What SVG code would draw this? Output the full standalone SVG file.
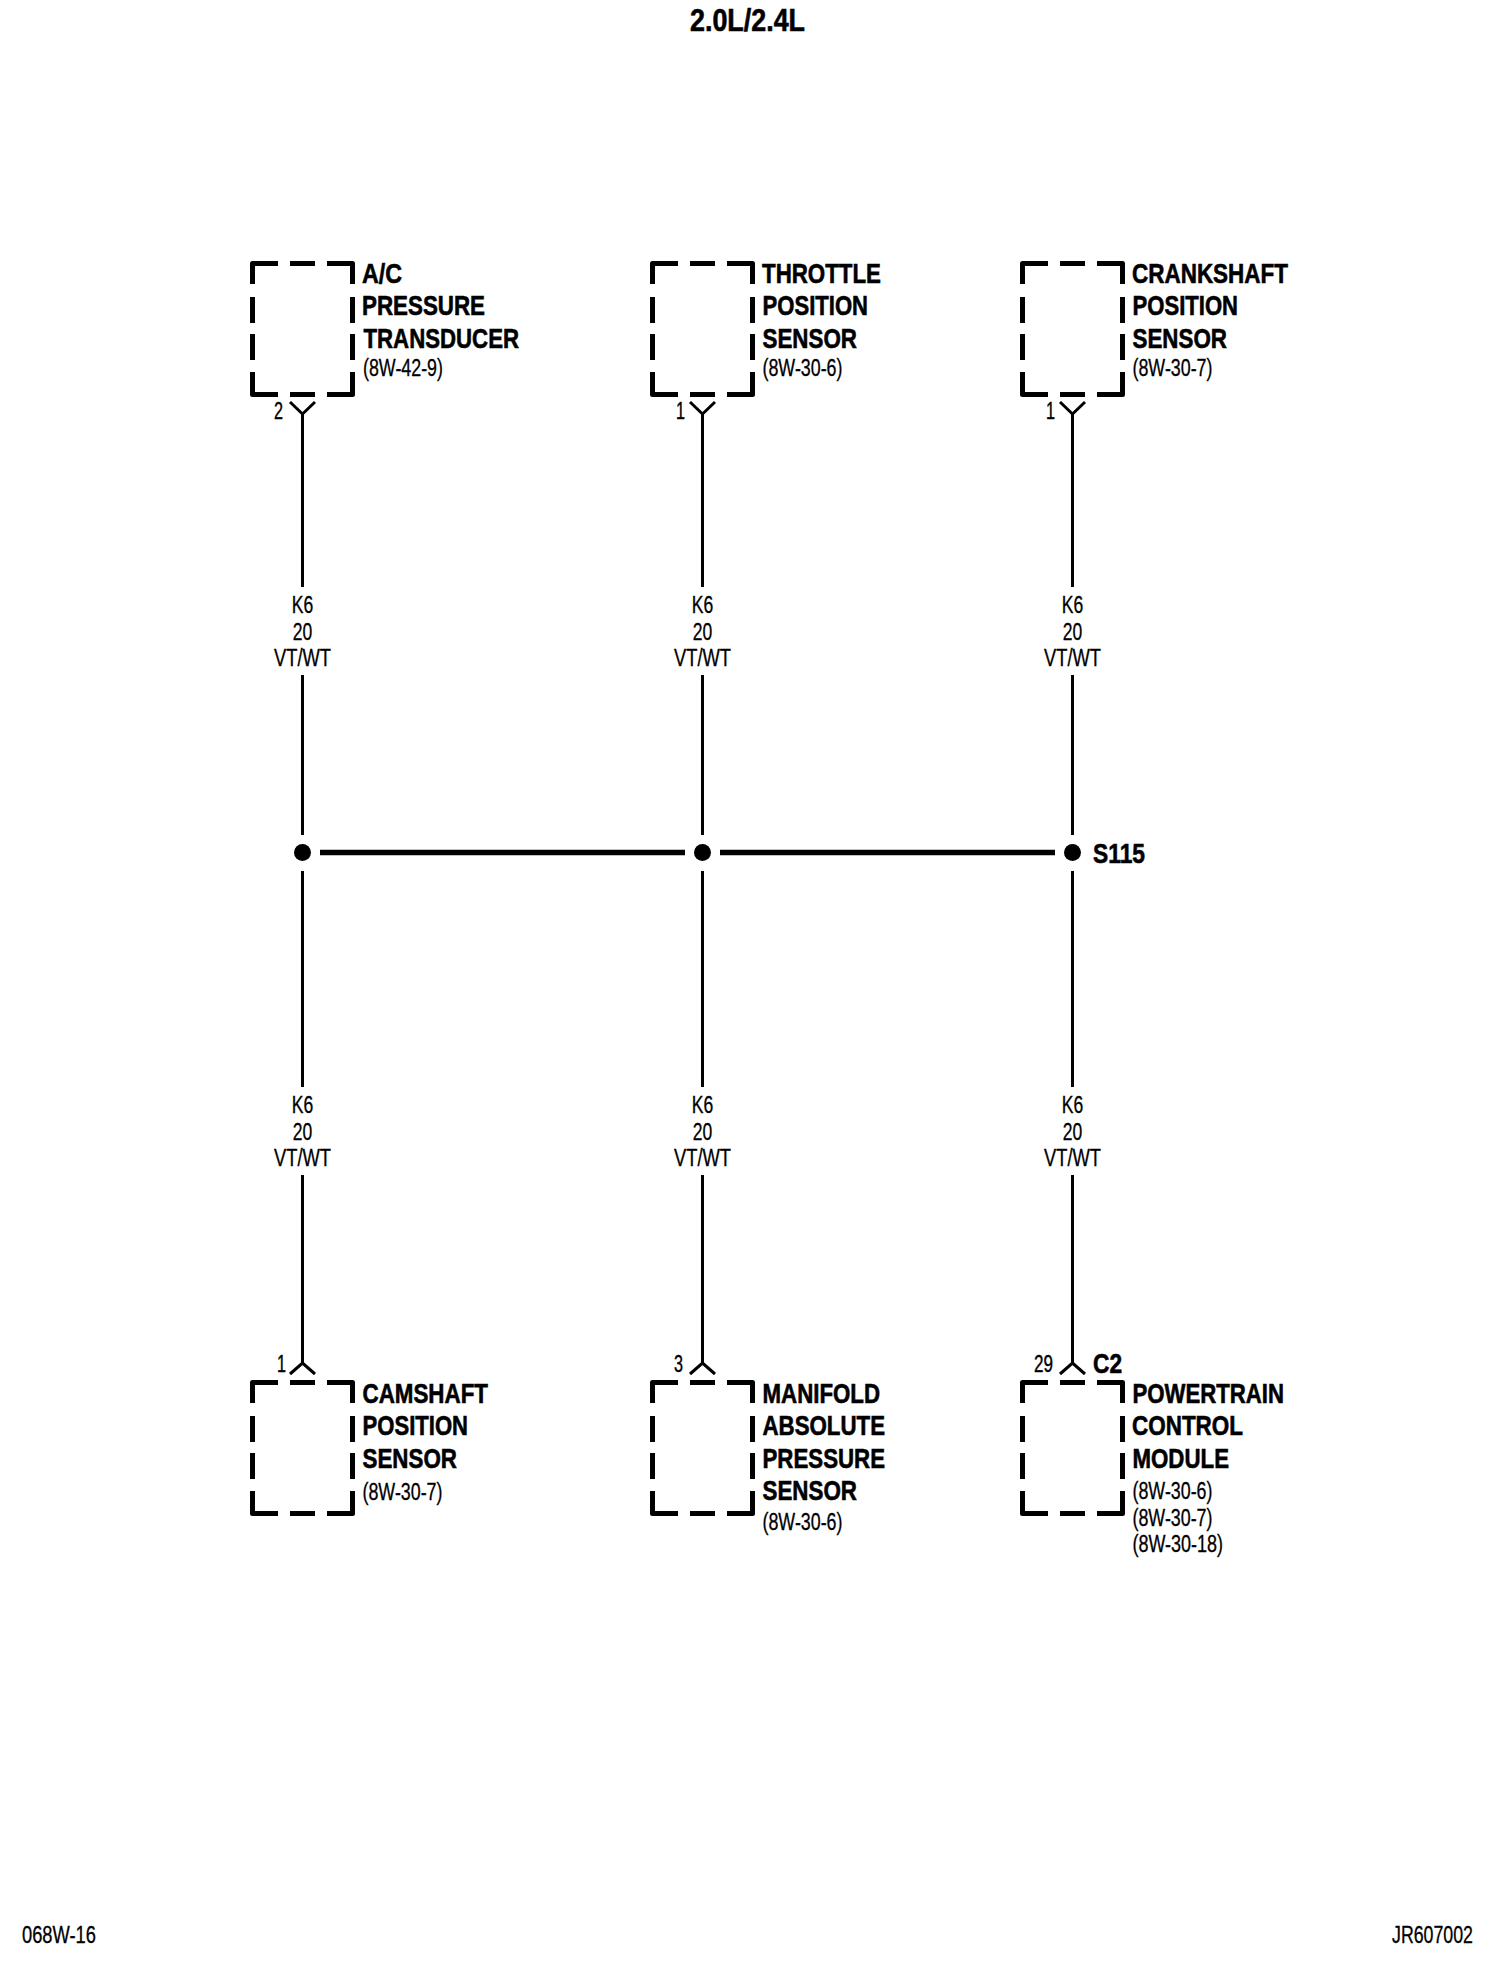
<svg xmlns="http://www.w3.org/2000/svg" width="1504" height="1972" viewBox="0 0 1504 1972">
<style>
text{font-family:"Liberation Sans",Arial,sans-serif;fill:#000}
.t{font-size:28px;font-weight:700;stroke:#000;stroke-width:.6}
.r{font-size:23px;stroke:#000;stroke-width:.3}
.w{font-size:23px;text-anchor:middle;stroke:#000;stroke-width:.3}
.p{font-size:23px;stroke:#000;stroke-width:.4}
.f{font-size:23px;stroke:#000;stroke-width:.3}
.box{fill:none;stroke:#000;stroke-width:5;stroke-linejoin:round}
.wire{fill:none;stroke:#000;stroke-width:3}
.bus{fill:none;stroke:#000;stroke-width:5.3}
</style>
<defs>
<path id="box" class="box" d="M2.5 23V2.5H28M40 2.5H65M77 2.5H102.500V23M2.5 36V62M2.5 73V99M2.500 111V133.500H28M40 133.500H65M77 133.500H102.500V111M102.500 36V62M102.500 73V99"/>
</defs>
<rect width="1504" height="1972" fill="#fff"/>
<g id="connectors">
<path class="wire" d="M302.500 413V587M302.500 675V835M302.500 871V1087M302.500 1175V1364"/>
<path class="wire" d="M702.500 413V587M702.500 675V835M702.500 871V1087M702.500 1175V1364"/>
<path class="wire" d="M1072.500 413V587M1072.500 675V835M1072.500 871V1087M1072.500 1175V1364"/>
<path class="bus" d="M320 852.500H685M720 852.500H1055"/>
<path class="wire" d="M290 402L302.500 414L315 402M690 402L702.500 414L715 402M1060 402L1072.500 414L1085 402"/>
<path class="wire" d="M290 1374L302.500 1363L315 1374M690 1374L702.500 1363L715 1374M1060 1374L1072.500 1363L1085 1374"/>
<circle cx="302.500" cy="852.500" r="8.500"/>
<circle cx="702.500" cy="852.500" r="8.500"/>
<circle cx="1072.500" cy="852.500" r="8.500"/>
</g>
<g id="wire-labels">
<text class="w" x="302.500" y="613" textLength="21.500" lengthAdjust="spacingAndGlyphs">K6</text><text class="w" x="302.500" y="640" textLength="19.500" lengthAdjust="spacingAndGlyphs">20</text><text class="w" x="302.500" y="666" textLength="57" lengthAdjust="spacingAndGlyphs">VT/WT</text>
<text class="w" x="702.500" y="613" textLength="21.500" lengthAdjust="spacingAndGlyphs">K6</text><text class="w" x="702.500" y="640" textLength="19.500" lengthAdjust="spacingAndGlyphs">20</text><text class="w" x="702.500" y="666" textLength="57" lengthAdjust="spacingAndGlyphs">VT/WT</text>
<text class="w" x="1072.500" y="613" textLength="21.500" lengthAdjust="spacingAndGlyphs">K6</text><text class="w" x="1072.500" y="640" textLength="19.500" lengthAdjust="spacingAndGlyphs">20</text><text class="w" x="1072.500" y="666" textLength="57" lengthAdjust="spacingAndGlyphs">VT/WT</text>
<text class="w" x="302.500" y="1113" textLength="21.500" lengthAdjust="spacingAndGlyphs">K6</text><text class="w" x="302.500" y="1140" textLength="19.500" lengthAdjust="spacingAndGlyphs">20</text><text class="w" x="302.500" y="1166" textLength="57" lengthAdjust="spacingAndGlyphs">VT/WT</text>
<text class="w" x="702.500" y="1113" textLength="21.500" lengthAdjust="spacingAndGlyphs">K6</text><text class="w" x="702.500" y="1140" textLength="19.500" lengthAdjust="spacingAndGlyphs">20</text><text class="w" x="702.500" y="1166" textLength="57" lengthAdjust="spacingAndGlyphs">VT/WT</text>
<text class="w" x="1072.500" y="1113" textLength="21.500" lengthAdjust="spacingAndGlyphs">K6</text><text class="w" x="1072.500" y="1140" textLength="19.500" lengthAdjust="spacingAndGlyphs">20</text><text class="w" x="1072.500" y="1166" textLength="57" lengthAdjust="spacingAndGlyphs">VT/WT</text>
</g>
<g id="title"><text class="t" x="690" y="31" textLength="115" lengthAdjust="spacingAndGlyphs" style="font-size:31px">2.0L/2.4L</text></g>
<g id="ac-pressure-transducer">
<use href="#box" x="250" y="261"/>
<text class="t" x="362" y="283" textLength="40" lengthAdjust="spacingAndGlyphs">A/C</text>
<text class="t" x="362" y="315" textLength="123" lengthAdjust="spacingAndGlyphs">PRESSURE</text>
<text class="t" x="363.500" y="348" textLength="155.500" lengthAdjust="spacingAndGlyphs">TRANSDUCER</text>
<text class="r" x="363" y="376" textLength="80" lengthAdjust="spacingAndGlyphs">(8W-42-9)</text>
<text class="p" x="274" y="419" textLength="9" lengthAdjust="spacingAndGlyphs">2</text>
</g>
<g id="throttle-position-sensor">
<use href="#box" x="650" y="261"/>
<text class="t" x="762" y="283" textLength="119" lengthAdjust="spacingAndGlyphs">THROTTLE</text>
<text class="t" x="762.500" y="315" textLength="105.500" lengthAdjust="spacingAndGlyphs">POSITION</text>
<text class="t" x="762.500" y="348" textLength="94.500" lengthAdjust="spacingAndGlyphs">SENSOR</text>
<text class="r" x="762.500" y="376" textLength="80" lengthAdjust="spacingAndGlyphs">(8W-30-6)</text>
<text class="p" x="676" y="419" textLength="9" lengthAdjust="spacingAndGlyphs">1</text>
</g>
<g id="crankshaft-position-sensor">
<use href="#box" x="1020" y="261"/>
<text class="t" x="1132" y="283" textLength="156" lengthAdjust="spacingAndGlyphs">CRANKSHAFT</text>
<text class="t" x="1132.500" y="315" textLength="105.500" lengthAdjust="spacingAndGlyphs">POSITION</text>
<text class="t" x="1132.500" y="348" textLength="94.500" lengthAdjust="spacingAndGlyphs">SENSOR</text>
<text class="r" x="1132.500" y="376" textLength="80" lengthAdjust="spacingAndGlyphs">(8W-30-7)</text>
<text class="p" x="1046" y="419" textLength="9" lengthAdjust="spacingAndGlyphs">1</text>
</g>
<g id="s115"><text class="t" x="1093" y="863" textLength="52" lengthAdjust="spacingAndGlyphs">S115</text></g>
<g id="camshaft-position-sensor">
<use href="#box" x="250" y="1380"/>
<text class="t" x="362.500" y="1402.500" textLength="125.500" lengthAdjust="spacingAndGlyphs">CAMSHAFT</text>
<text class="t" x="362.500" y="1435" textLength="105.500" lengthAdjust="spacingAndGlyphs">POSITION</text>
<text class="t" x="362.500" y="1468" textLength="94.500" lengthAdjust="spacingAndGlyphs">SENSOR</text>
<text class="r" x="362.500" y="1500" textLength="80" lengthAdjust="spacingAndGlyphs">(8W-30-7)</text>
<text class="p" x="277" y="1372" textLength="9" lengthAdjust="spacingAndGlyphs">1</text>
</g>
<g id="manifold-absolute-pressure-sensor">
<use href="#box" x="650" y="1380"/>
<text class="t" x="762.500" y="1402.500" textLength="117.500" lengthAdjust="spacingAndGlyphs">MANIFOLD</text>
<text class="t" x="762.500" y="1435" textLength="122.500" lengthAdjust="spacingAndGlyphs">ABSOLUTE</text>
<text class="t" x="762.500" y="1468" textLength="122.500" lengthAdjust="spacingAndGlyphs">PRESSURE</text>
<text class="t" x="762.500" y="1500" textLength="94.500" lengthAdjust="spacingAndGlyphs">SENSOR</text>
<text class="r" x="762.500" y="1530" textLength="80" lengthAdjust="spacingAndGlyphs">(8W-30-6)</text>
<text class="p" x="674" y="1372" textLength="9" lengthAdjust="spacingAndGlyphs">3</text>
</g>
<g id="powertrain-control-module">
<use href="#box" x="1020" y="1380"/>
<text class="t" x="1132.500" y="1402.500" textLength="151.500" lengthAdjust="spacingAndGlyphs">POWERTRAIN</text>
<text class="t" x="1132" y="1435" textLength="111" lengthAdjust="spacingAndGlyphs">CONTROL</text>
<text class="t" x="1132.500" y="1468" textLength="96.500" lengthAdjust="spacingAndGlyphs">MODULE</text>
<text class="r" x="1132.500" y="1499" textLength="80" lengthAdjust="spacingAndGlyphs">(8W-30-6)</text>
<text class="r" x="1132.500" y="1526" textLength="80" lengthAdjust="spacingAndGlyphs">(8W-30-7)</text>
<text class="r" x="1132.500" y="1552" textLength="90.500" lengthAdjust="spacingAndGlyphs">(8W-30-18)</text>
<text class="p" x="1034" y="1372" textLength="19" lengthAdjust="spacingAndGlyphs">29</text>
<text class="t" x="1093" y="1373" textLength="29" lengthAdjust="spacingAndGlyphs">C2</text>
</g>
<g id="footer">
<text class="f" x="22" y="1943" textLength="74" lengthAdjust="spacingAndGlyphs">068W-16</text>
<text class="f" x="1392" y="1943" textLength="81" lengthAdjust="spacingAndGlyphs">JR607002</text>
</g>
</svg>
